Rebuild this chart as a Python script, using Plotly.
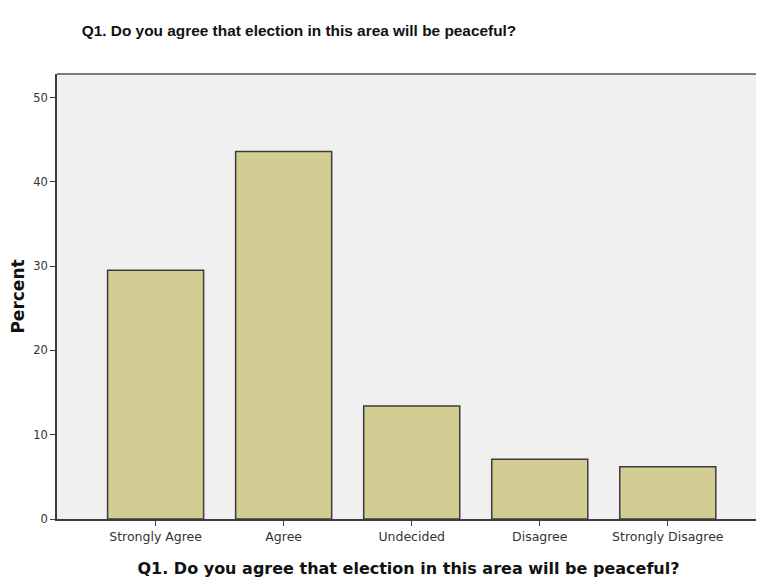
import plotly.graph_objects as go

categories = ["Strongly Agree", "Agree", "Undecided", "Disagree", "Strongly Disagree"]
percent = [29.5, 43.6, 13.4, 7.1, 6.2]
y_ticks = [0, 10, 20, 30, 40, 50]

title_text = "Q1. Do you agree that election in this area will be peaceful?"

fig = go.Figure(go.Bar(
    x=categories, y=percent, width=0.75,
    marker=dict(color="#d3cd94", line=dict(color="#3c3c3c", width=1.5)),
))

W, H = 756, 573
fig.update_layout(
    width=W, height=H,
    margin=dict(l=49, r=4, t=66, b=62),
    paper_bgcolor="white", plot_bgcolor="#f0f0f0",
    showlegend=False,
    font=dict(family="DejaVu Sans, sans-serif", color="#222"),
    title=dict(text=f"<b>{title_text}</b>", x=291 / W, xanchor="center",
               y=1 - 23 / H, yanchor="middle",
               font=dict(family="Liberation Sans, Arial, sans-serif", size=15.4, color="#111")),
)
fig.update_xaxes(
    range=[-0.77, 4.72], showgrid=False, showline=True, linecolor="#3c3c3c", linewidth=1.5,
    ticks="outside", ticklen=5, tickcolor="#3c3c3c",
    tickfont=dict(family="DejaVu Sans, sans-serif", size=12.5, color="#333"),
    title=dict(text=f"<b>{title_text}</b>",
               font=dict(family="DejaVu Sans, sans-serif", size=16, color="#111"), standoff=20),
)
fig.update_yaxes(
    range=[0, 52.8], tickvals=y_ticks, showgrid=False, showline=True, linecolor="#3c3c3c", linewidth=1.5,
    ticks="outside", ticklen=5, tickcolor="#3c3c3c",
    tickfont=dict(family="DejaVu Sans, sans-serif", size=11.5, color="#333"),
    title=dict(text="<b>Percent</b>",
               font=dict(family="DejaVu Sans, sans-serif", size=17, color="#111"), standoff=10),
    zeroline=False,
)
fig.add_shape(type="line", xref="paper", yref="paper", x0=0, x1=1, y0=1, y1=1,
              line=dict(color="#555", width=1.5))
fig.add_shape(type="line", xref="paper", yref="paper", x0=1, x1=1, y0=0, y1=1,
              line=dict(color="#bbb", width=1))

fig.write_html("out.html")
